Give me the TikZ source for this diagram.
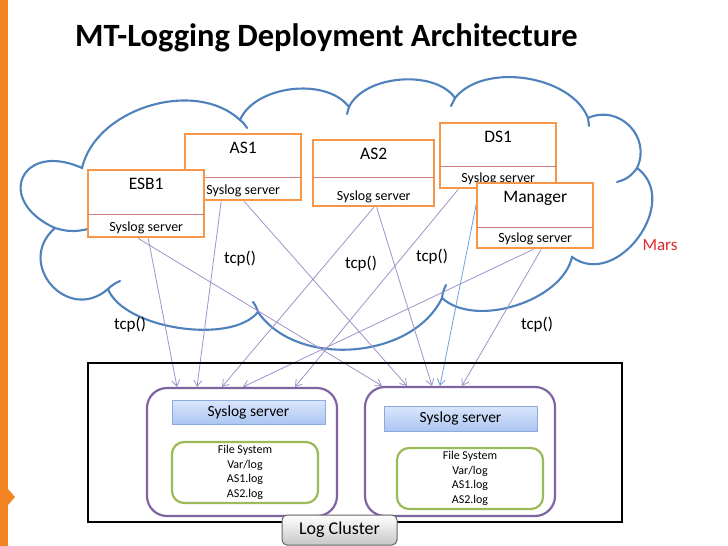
\documentclass[tikz,border=0pt]{standalone}
\usepackage{fontspec}
\setmainfont{Carlito}
\usetikzlibrary{arrows.meta,calc}
\pgfdeclarelayer{bg}
\pgfsetlayers{bg,main}
\definecolor{cloudblue}{RGB}{79,129,189}
\definecolor{boxorange}{RGB}{247,150,70}
\definecolor{divred}{RGB}{205,125,125}
\definecolor{arrpurple}{RGB}{158,148,200}
\definecolor{arrblue}{RGB}{110,160,220}
\definecolor{clpurple}{RGB}{128,100,162}
\definecolor{clgreen}{RGB}{155,187,89}
\definecolor{sysfillA}{RGB}{218,230,252}
\definecolor{sysfillB}{RGB}{172,198,242}
\definecolor{sysborder}{RGB}{140,170,220}
\definecolor{barorange}{RGB}{242,132,36}
\definecolor{marsred}{RGB}{225,40,45}
\newcommand{\fsz}[1]{\fontsize{#1}{#1}\selectfont}
\newcommand{\srvbox}[7]{%
  \node[srv, anchor=north west, minimum width=#4pt, minimum height=#5pt] (#1) at (#2,#3) {};
  \draw[divider] ([xshift=1.2pt,yshift=-#6pt]#1.north west) -- ([xshift=-1.2pt,yshift=-#6pt]#1.north east);
  \node[srvtitle, anchor=base] (#1-t) at ([yshift=-20.5pt]#1.north) {#7};
  \node[srvsub, anchor=base] (#1-s) at ([yshift=6.5pt]#1.south) {Syslog server};
}
\begin{document}
\begin{tikzpicture}[x=1pt,y=-1pt,
  cloud/.style={draw=cloudblue, line width=2.1pt, line cap=round},
  srv/.style={draw=boxorange, fill=white, line width=2.4pt, inner sep=0pt},
  divider/.style={draw=divred, line width=0.6pt},
  srvtitle/.style={font=\fsz{17.5}, inner sep=0pt},
  srvsub/.style={font=\fsz{14}, inner sep=0pt},
  conn/.style={draw=arrpurple, line width=0.8pt, -{Straight Barb[length=6pt,width=8pt]}},
  connb/.style={conn, draw=arrblue},
  tcplbl/.style={font=\fsz{17}, inner sep=0pt},
  outer/.style={draw=black, line width=2.2pt, inner sep=0pt},
  hostbox/.style={draw=clpurple, fill=white, line width=2.2pt, rounded corners=20pt, inner sep=0pt},
  sysbox/.style={top color=sysfillA, bottom color=sysfillB, draw=sysborder, line width=0.8pt, inner sep=0pt, font=\fsz{15.5}},
  fsbox/.style={draw=clgreen, line width=2.2pt, rounded corners=12pt, inner sep=0pt, align=center, font=\fontsize{12}{14.7}\selectfont},
  btn/.style={top color=white, bottom color=black!22, draw=black!60, line width=1pt, rounded corners=5pt, inner sep=0pt, font=\fsz{18}}
]
\useasboundingbox (0,0) rectangle (728,546);
% left orange bar
\fill[barorange] (0,0) rectangle (8,546);
\fill[barorange] (8,489) -- (15,497) -- (8,505) -- cycle;
% title
\node[anchor=base west, inner sep=0pt, font=\fsz{32.5}\bfseries] (title) at (75,46) {MT-Logging Deployment Architecture};

% server boxes
\srvbox{as1}{184}{133}{116}{66}{44}{AS1}
\srvbox{esb1}{87}{169}{116}{67}{45}{ESB1}
\srvbox{as2}{312}{139}{121}{66}{38.5}{AS2}
\srvbox{ds1}{439}{122}{116}{65}{44}{DS1}
\srvbox{mgr}{476}{182}{116}{65}{45}{Manager}

\node[tcplbl] (t1) at (240,259) {tcp()};
\node[tcplbl] (t2) at (361,264) {tcp()};
\node[tcplbl] (t3) at (432,257) {tcp()};
\node[tcplbl] (t4) at (130,325) {tcp()};
\node[tcplbl] (t5) at (537,325) {tcp()};
\node[font=\fsz{17}, text=marsred, inner sep=0pt] (mars) at (660,245) {Mars};

% cluster
\node[outer, minimum width=534pt, minimum height=159pt] (cluster) at (355,442.5) {};
\node[hostbox, minimum width=190pt, minimum height=128pt] (lbox) at (242,452) {};
\node[hostbox, minimum width=190pt, minimum height=129pt] (rbox) at (460,451.5) {};
\node[sysbox, minimum width=153pt, minimum height=24pt] (lsys) at (248.5,412) {Syslog server};
\node[sysbox, minimum width=153pt, minimum height=25pt] (rsys) at (460.5,418.5) {Syslog server};
\node[fsbox, minimum width=146pt, minimum height=61pt] (lfs) at (245,472.5) {File System\\Var/log\\AS1.log\\AS2.log};
\node[fsbox, minimum width=146pt, minimum height=61pt] (rfs) at (470,478.5) {File System\\Var/log\\AS1.log\\AS2.log};
\node[btn, minimum width=115pt, minimum height=30pt] (logc) at (339.5,530) {Log Cluster};

\begin{pgfonlayer}{bg}
\fill[white] (8,0) rectangle (728,546);
% cloud
\draw[cloud] (55,228) to[bend left=90, looseness=2.6] (82,168)
  to[bend left=60, looseness=0.95] (240,120)
  to[bend left=60, looseness=0.88] (349,107)
  to[bend left=60, looseness=0.85] (455,98)
  to[bend left=60, looseness=0.88] (588,118)
  to[bend left=70, looseness=1.25] (637,168)
  to[bend left=90, looseness=1.3] (572,257)
  to[bend left=60, looseness=0.85] (442,298)
  to[bend left=60, looseness=0.95] (258,312)
  to[bend left=60, looseness=0.72] (108,289)
  to[bend left=90, looseness=1.7] (55,228);
% hooks
\draw[cloud] (55,228) to[bend right=15] (88,229);
\draw[cloud] (240,120) to[bend left=10] (247,128);
\draw[cloud] (349,107) -- (347,114);
\draw[cloud] (455,98) -- (451,106);
\draw[cloud] (588,118) -- (589,126);
\draw[cloud] (637,168) to[bend left=20] (617,182);
\draw[cloud] (442,298) to[bend left=10] (446,285);
\draw[cloud] (258,312) to[bend right=10] (253,302);
\draw[cloud] (108,289) to[bend left=10] (120,281);
% connectors
\draw[conn] ([xshift=2pt]esb1.south) -- ([xshift=-65pt]lbox.north);
\draw[conn] ([xshift=-8pt]esb1.south) -- ([xshift=-78pt]rbox.north);
\draw[conn] ([xshift=-22pt]as1.south) -- ([xshift=-45pt]lbox.north);
\draw[conn] ([xshift=1pt]as1.south) -- ([xshift=-53pt]rbox.north);
\draw[conn] (as2.south) -- ([xshift=-20pt]lbox.north);
\draw[conn] ([xshift=3pt]as2.south) -- ([xshift=-28pt]rbox.north);
\draw[conn] ([xshift=-40pt]ds1.south) -- ([xshift=53pt]lbox.north);
\draw[connb] ([xshift=-19pt]ds1.south) -- ([xshift=-20pt]rbox.north);
\draw[conn] ([xshift=-2pt]mgr.south) -- ([xshift=1pt]lbox.north);
\draw[conn] ([xshift=6pt]mgr.south) -- ([xshift=2pt]rbox.north);
\end{pgfonlayer}
\end{tikzpicture}
\end{document}
